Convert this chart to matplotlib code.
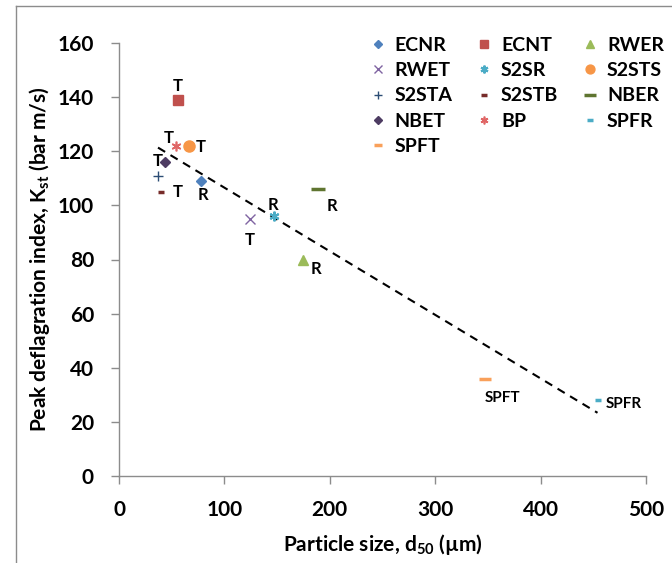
import numpy as np
import matplotlib
matplotlib.use("Agg")
import matplotlib.pyplot as plt
from matplotlib.lines import Line2D

plt.rcParams['font.family'] = ['Lato', 'DejaVu Sans']
plt.rcParams['font.weight'] = 'bold'
plt.rcParams['mathtext.fontset'] = 'custom'
plt.rcParams['mathtext.rm'] = 'Lato:bold'
plt.rcParams['mathtext.it'] = 'Lato:bold'
plt.rcParams['mathtext.bf'] = 'Lato:bold'

# ---- data ----
names = ["ECNR", "ECNT", "RWER", "RWET", "S2SR", "S2STS", "S2STA",
         "S2STB", "NBER", "NBET", "BP", "SPFR", "SPFT"]
d50 = [78, 56, 175, 124, 147, 66, 37, 40, 189, 44, 54, 454, 347]
kst = [109, 139, 80, 95, 96, 122, 111, 105, 106, 116, 122, 28, 36]
point_labels = ["R", "T", "R", "T", "R", "T", "", "T", "R", "T", "T", "SPFR", "SPFT"]

colors = ["#4F81BD", "#C0504D", "#9BBB59", "#8064A2", "#4BACC6", "#F79646",
          "#2C4D75", "#772C2A", "#5F7530", "#4D3B62", "#E06666", "#4BACC6", "#F9A05A"]
markers = ["D", "s", "^", "x", (6, 2, 0), "o", "+", "_", "_", "D", (6, 2, 0), "_", "_"]
msizes = [5, 7, 7, 7, 7, 8, 7, 5, 10, 5, 7, 5, 8]
medge = [1.0, 1.0, 1.0, 1.0, 1.5, 1.0, 1.0, 2.5, 2.5, 1.0, 1.2, 2.5, 2.5]
# label offsets in points (dx, dy) and horizontal alignment
lab_off = [(1, -10), (0, 10), (9, -7), (0, -15), (-1, 8), (5, -1), (0, 0),
           (12, 0), (10, -12), (-2, 1), (-5, 6), (6, -3), (13, -14)]
lab_ha = ["center", "center", "center", "center", "center", "left", "center",
          "center", "center", "right", "center", "left", "center"]
lab_size = [12, 12, 12, 12, 12, 12, 12, 12, 12, 12, 12, 11, 11]

fig = plt.figure(figsize=(6.72, 5.63), dpi=100)
ax = fig.add_axes([119/672, 1-476/563, 527/672, 433/563])

handles = {}
for i, n in enumerate(names):
    h, = ax.plot(d50[i], kst[i], linestyle='none', marker=markers[i],
                 markersize=msizes[i], color=colors[i], markerfacecolor=colors[i],
                 markeredgewidth=medge[i], label=n, zorder=3)
    handles[n] = h
    if point_labels[i]:
        ax.annotate(point_labels[i], (d50[i], kst[i]), xytext=lab_off[i],
                    textcoords='offset points', ha=lab_ha[i], va='center',
                    fontsize=lab_size[i], fontweight='bold', color='black')

# linear trend line over all points
x = np.array(d50, dtype=float)
y = np.array(kst, dtype=float)
m, b = np.polyfit(x, y, 1)
xt = np.array([x.min(), x.max()])
ax.plot(xt, m*xt + b, linestyle=(0, (4, 3)), color='black', linewidth=1.5, zorder=2)

ax.set_xlim(0, 500)
ax.set_ylim(0, 160)
ax.set_xticks(np.arange(0, 501, 100))
ax.set_yticks(np.arange(0, 161, 20))
for s in ['top', 'right']:
    ax.spines[s].set_visible(False)
for s in ['left', 'bottom']:
    ax.spines[s].set_color('#8c8c8c')
    ax.spines[s].set_linewidth(1.0)
ax.tick_params(direction='out', length=6, width=1.0, color='#8c8c8c', labelsize=15)
ax.tick_params(axis='y', pad=12)
ax.tick_params(axis='x', pad=11)
for t in ax.get_xticklabels() + ax.get_yticklabels():
    t.set_fontweight('bold')

ax.set_xlabel("Particle size, d$_{50}$ (µm)", fontsize=15, fontweight='bold', labelpad=9)
ax.set_ylabel("Peak deflagration index, K$_{st}$ (bar m/s)", fontsize=15,
              fontweight='bold', labelpad=4)

order = ["ECNR", "RWET", "S2STA", "NBET", "SPFT",
         "ECNT", "S2SR", "S2STB", "BP",
         "RWER", "S2STS", "NBER", "SPFR"]
leg = ax.legend([handles[n] for n in order], order, ncol=3, frameon=False,
                loc='upper left', bbox_to_anchor=(0.447, 1.054),
                prop={'size': 14, 'weight': 'bold'}, handlelength=0.6,
                handletextpad=0.55, columnspacing=1.35, labelspacing=0.42,
                markerscale=0.8)

# outer frame (left and top visible)
fig.add_artist(Line2D([16/672, 16/672], [0, 1-6/563], color='#8c8c8c', lw=1.0))
fig.add_artist(Line2D([16/672, 1], [1-6/563, 1-6/563], color='#8c8c8c', lw=1.0))

fig.savefig("out.png", dpi=100)
